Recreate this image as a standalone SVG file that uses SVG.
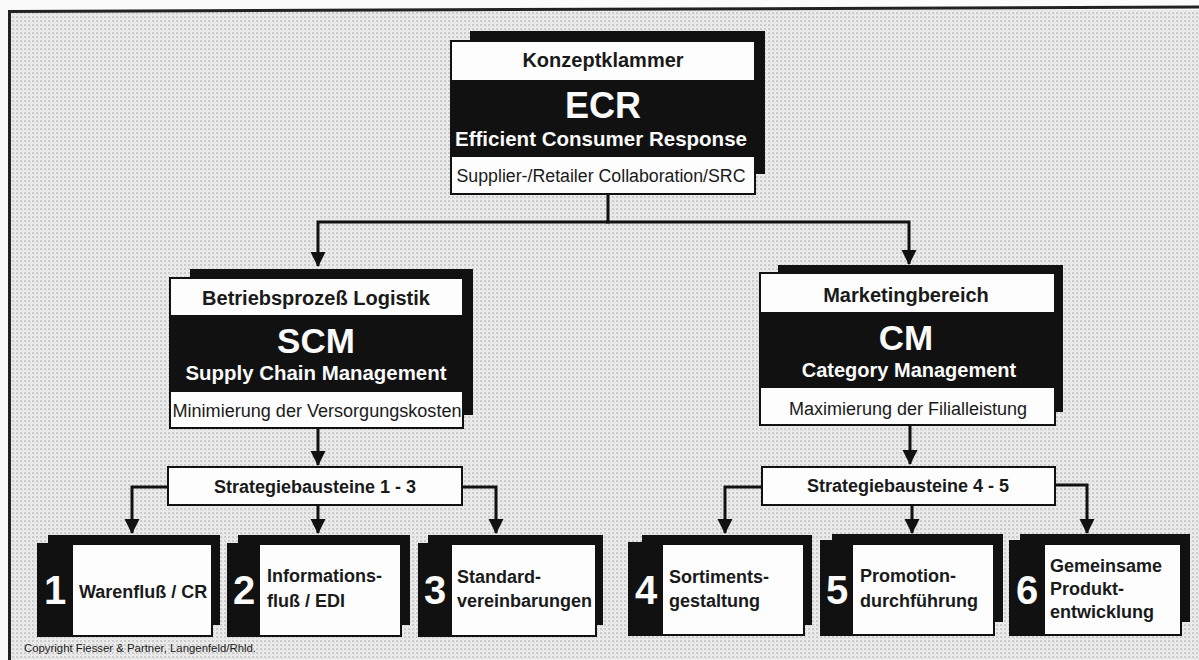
<svg xmlns="http://www.w3.org/2000/svg" width="1199" height="660" viewBox="0 0 1199 660">
<defs>
<pattern id="bg" width="4" height="4" patternUnits="userSpaceOnUse">
<rect width="4" height="4" fill="#ebebeb"/>
<rect x="0" y="0" width="2" height="2" fill="#cbcbcb"/>
<rect x="2" y="2" width="1" height="1" fill="#d6d6d6"/>
</pattern>
<marker id="ah" markerUnits="userSpaceOnUse" markerWidth="16" markerHeight="16" refX="14" refY="7.5" orient="auto">
<path d="M0,0 L15,7.5 L0,15 z" fill="#111"/>
</marker>
<style>
.sh{fill:#111}
.wb{fill:#fdfdfd;stroke:#111;stroke-width:2}
.bk{fill:#111}
.t{font-family:"Liberation Sans",Arial,Helvetica,sans-serif;fill:#1a1a1a}
.b{font-weight:bold}
.w{fill:#fafafa}
.c{text-anchor:middle}
.num{font-family:"Liberation Sans",Arial,sans-serif;font-weight:bold;font-size:40px;fill:#fafafa;text-anchor:middle}
.ln{fill:none;stroke:#111;stroke-width:3}
</style>
</defs>
<rect width="1199" height="660" fill="#fbfbfb"/>
<rect x="9" y="10" width="1190" height="650" fill="url(#bg)"/>
<path d="M8,11.5 L1199,7" stroke="#222" stroke-width="3" fill="none"/>
<path d="M9.5,10 L9.5,660" stroke="#222" stroke-width="3" fill="none"/>

<g id="connectors">
<path class="ln" d="M608,194 V222 H318 V266" marker-end="url(#ah)"/>
<path class="ln" d="M606,222 H909 V264" marker-end="url(#ah)"/>
<path class="ln" d="M318,428 V465" marker-end="url(#ah)"/>
<path class="ln" d="M910,425 V464" marker-end="url(#ah)"/>
<path class="ln" d="M168,487 H132 V533" marker-end="url(#ah)"/>
<path class="ln" d="M318,505 V533" marker-end="url(#ah)"/>
<path class="ln" d="M462,487 H496 V533" marker-end="url(#ah)"/>
<path class="ln" d="M762,487 H725 V533" marker-end="url(#ah)"/>
<path class="ln" d="M912,505 V533" marker-end="url(#ah)"/>
<path class="ln" d="M1055,485 H1087 V533" marker-end="url(#ah)"/>
</g>

<g id="ecr">
<rect class="sh" x="470" y="31" width="295" height="143"/>
<rect class="wb" x="451" y="41" width="304" height="153"/>
<rect class="bk" x="451" y="80" width="304" height="77"/>
<text class="t b c" x="603" y="67" font-size="20">Konzeptklammer</text>
<text class="t b c w" x="603" y="118" font-size="36">ECR</text>
<text class="t b c w" x="601" y="146" font-size="20.5" textLength="292" lengthAdjust="spacingAndGlyphs">Efficient Consumer Response</text>
<text class="t c" x="601" y="182" font-size="18" textLength="289" lengthAdjust="spacingAndGlyphs">Supplier-/Retailer Collaboration/SRC</text>
</g>

<g id="scm">
<rect class="sh" x="190" y="269" width="283" height="146"/>
<rect class="wb" x="170" y="278" width="293" height="150"/>
<rect class="bk" x="170" y="315" width="293" height="77"/>
<text class="t b c" x="316" y="305" font-size="20">Betriebsprozeß Logistik</text>
<text class="t b c w" x="316" y="353" font-size="35">SCM</text>
<text class="t b c w" x="316" y="380" font-size="20" textLength="261" lengthAdjust="spacingAndGlyphs">Supply Chain Management</text>
<text class="t c" x="317" y="417" font-size="18" textLength="289" lengthAdjust="spacingAndGlyphs">Minimierung der Versorgungskosten</text>
</g>

<g id="cm">
<rect class="sh" x="778" y="265" width="285" height="147"/>
<rect class="wb" x="760" y="273" width="295" height="152"/>
<rect class="bk" x="760" y="312" width="295" height="76"/>
<text class="t b c" x="906" y="302" font-size="20">Marketingbereich</text>
<text class="t b c w" x="906" y="350" font-size="35">CM</text>
<text class="t b c w" x="909" y="377" font-size="20">Category Management</text>
<text class="t c" x="908" y="415" font-size="18">Maximierung der Filialleistung</text>
</g>

<g id="sb13">
<rect class="wb" x="168" y="467" width="294" height="38"/>
<text class="t b c" x="315" y="493" font-size="18">Strategiebausteine 1 - 3</text>
</g>

<g id="sb45">
<rect class="wb" x="762" y="467" width="293" height="38"/>
<text class="t b c" x="908" y="492" font-size="18">Strategiebausteine 4 - 5</text>
</g>

<g id="box1">
<rect class="sh" x="48" y="535" width="172" height="90"/>
<rect class="bk" x="37" y="543" width="176" height="94"/>
<rect fill="#fdfdfd" x="73" y="545" width="138" height="90"/>
<text class="num" x="55" y="604">1</text>
<text class="t b" x="79" y="598" font-size="18">Warenfluß / CR</text>
</g>

<g id="box2">
<rect class="sh" x="238" y="535" width="172" height="90"/>
<rect class="bk" x="227" y="543" width="175" height="94"/>
<rect fill="#fdfdfd" x="260" y="545" width="140" height="90"/>
<text class="num" x="244" y="604">2</text>
<text class="t b" x="267" y="582" font-size="18">Informations-</text>
<text class="t b" x="267" y="607" font-size="18">fluß / EDI</text>
</g>

<g id="box3">
<rect class="sh" x="428" y="535" width="175" height="90"/>
<rect class="bk" x="418" y="543" width="179" height="94"/>
<rect fill="#fdfdfd" x="452" y="545" width="143" height="90"/>
<text class="num" x="435" y="604">3</text>
<text class="t b" x="457" y="583" font-size="18">Standard-</text>
<text class="t b" x="457" y="607" font-size="18">vereinbarungen</text>
</g>

<g id="box4">
<rect class="sh" x="642" y="535" width="170" height="90"/>
<rect class="bk" x="628" y="542" width="177" height="94"/>
<rect fill="#fdfdfd" x="663" y="545" width="140" height="89"/>
<text class="num" x="646" y="604">4</text>
<text class="t b" x="669" y="583" font-size="18">Sortiments-</text>
<text class="t b" x="669" y="607" font-size="18">gestaltung</text>
</g>

<g id="box5">
<rect class="sh" x="832" y="534" width="171" height="88"/>
<rect class="bk" x="820" y="540" width="175" height="96"/>
<rect fill="#fdfdfd" x="853" y="545" width="140" height="89"/>
<text class="num" x="837" y="604">5</text>
<text class="t b" x="860" y="582" font-size="18">Promotion-</text>
<text class="t b" x="860" y="607" font-size="18">durchführung</text>
</g>

<g id="box6">
<rect class="sh" x="1020" y="534" width="170" height="88"/>
<rect class="bk" x="1009" y="540" width="173" height="96"/>
<rect fill="#fdfdfd" x="1045" y="545" width="135" height="89"/>
<text class="num" x="1027" y="604">6</text>
<text class="t b" x="1050" y="572" font-size="18">Gemeinsame</text>
<text class="t b" x="1050" y="595" font-size="18">Produkt-</text>
<text class="t b" x="1050" y="618" font-size="18">entwicklung</text>
</g>

<text class="t" x="24" y="652" font-size="10.5" fill="#333" textLength="232" lengthAdjust="spacingAndGlyphs">Copyright Fiesser &amp; Partner, Langenfeld/Rhld.</text>
</svg>
